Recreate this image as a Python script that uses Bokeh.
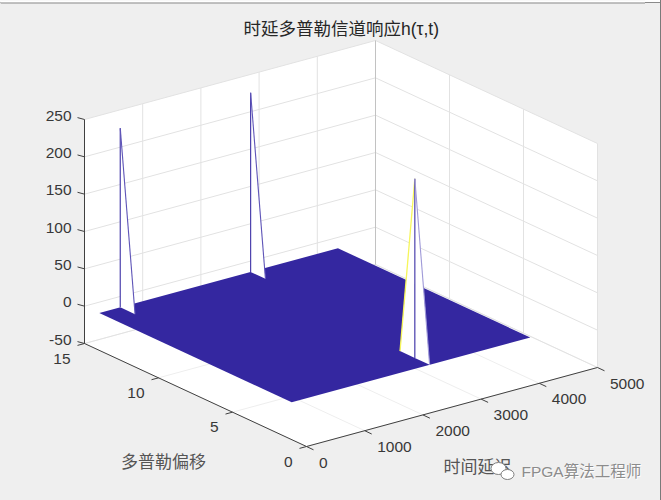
from bokeh.plotting import figure
from bokeh.embed import file_html
from bokeh.resources import INLINE
from bokeh.core.properties import value
from bokeh.models import Range1d

# ---- data ----
delay_ticks = [0, 1000, 2000, 3000, 4000, 5000]
doppler_ticks = [0, 5, 10, 15]
amp_ticks = [-50, 0, 50, 100, 150, 200, 250]
plate_delay = [0, 4100]
plate_doppler = [1, 14]
plate_amp = 0
spike_delay = [360, 2600, 2370]
spike_doppler = [14, 14, 2]
spike_amp = [240, 240, 240]
title_text = "时延多普勒信道响应h(τ,t)"
xlabel_text = "时间延迟"
ylabel_text = "多普勒偏移"
watermark_text = "FPGA算法工程师"

# ---- oblique view of the MATLAB box ----
O = (306.0, 446.0)
DX = (291.0 / 5000, -79.0 / 5000)
DY = (-222.0 / 15, -103.0 / 15)
DZ = -224.0 / 300


def proj(d, m, a):
    return (O[0] + d * DX[0] + m * DY[0],
            O[1] + d * DX[1] + m * DY[1] + (a + 50) * DZ)


BG = "#efefef"
p = figure(width=645, height=484, output_backend="svg", toolbar_location=None,
           x_range=Range1d(0, 645), y_range=Range1d(484, 0),
           min_border=0, background_fill_color=BG, border_fill_color=BG,
           outline_line_color=None)
p.axis.visible = False
p.grid.visible = False

dmin, dmax = delay_ticks[0], delay_ticks[-1]
mmin, mmax = doppler_ticks[0], doppler_ticks[-1]
amin, amax = amp_ticks[0], amp_ticks[-1]


def poly(pts, **kw):
    xs, ys = zip(*pts)
    p.patch(list(xs), list(ys), line_color=None, **kw)


def seg(a, b, color, width=1.0, alpha=1.0):
    p.line([a[0], b[0]], [a[1], b[1]], line_color=color, line_width=width, line_alpha=alpha)


# window edge of the screenshot
poly([(0, 0), (645, 0), (645, 2), (0, 2)], fill_color="white")
seg((0, 2.5), (645, 2.5), "#8a8a8a")

# walls and floor
poly([proj(dmin, mmax, amin), proj(dmax, mmax, amin), proj(dmax, mmax, amax), proj(dmin, mmax, amax)], fill_color="white")
poly([proj(dmax, mmax, amin), proj(dmax, mmin, amin), proj(dmax, mmin, amax), proj(dmax, mmax, amax)], fill_color="white")
poly([proj(dmin, mmin, amin), proj(dmax, mmin, amin), proj(dmax, mmax, amin), proj(dmin, mmax, amin)], fill_color="white")

GRID = "#e2e2e2"
FLOOR = "#eeeeee"
for d in delay_ticks:
    seg(proj(d, mmax, amin), proj(d, mmax, amax), GRID)
    seg(proj(d, mmin, amin), proj(d, mmax, amin), FLOOR)
for m in doppler_ticks:
    seg(proj(dmax, m, amin), proj(dmax, m, amax), GRID)
    seg(proj(dmin, m, amin), proj(dmax, m, amin), FLOOR)
for a in amp_ticks:
    seg(proj(dmin, mmax, a), proj(dmax, mmax, a), GRID)
    seg(proj(dmax, mmax, a), proj(dmax, mmin, a), GRID)
seg(proj(dmax, mmax, amin), proj(dmax, mmax, amax), "#c2c2c2")

# surface
poly([proj(plate_delay[0], plate_doppler[0], plate_amp),
      proj(plate_delay[1], plate_doppler[0], plate_amp),
      proj(plate_delay[1], plate_doppler[1], plate_amp),
      proj(plate_delay[0], plate_doppler[1], plate_amp)], fill_color="#3427a0")

BLUE = "#4c41ad"
YELLOW = "#f6f65a"
for d, m, a in zip(spike_delay, spike_doppler, spike_amp):
    peak = proj(d, m, a)
    base = proj(d, m, plate_amp)
    front = proj(d, m - 1, plate_amp)
    poly([peak, base, front], fill_color="white")
    if m < plate_doppler[1]:
        back = proj(d, m + 1, plate_amp)
        poly([peak, base, back], fill_color="white")
        seg(peak, back, YELLOW, 1.3)
    seg(peak, base, BLUE, 1.2)
    seg(peak, front, "#5f55b8" if m == plate_doppler[1] else "#a09ad8", 1.1)

# axes
AX = "#404040"
seg(proj(dmin, mmax, amin), proj(dmin, mmax, amax), AX)
seg(proj(dmin, mmin, amin), proj(dmin, mmax, amin), AX)
seg(proj(dmin, mmin, amin), proj(dmax, mmin, amin), AX)

TICK_BACK = (-7.0, 1.9)
TICK_FWD = (7.0, 3.3)
FONT = value("Liberation Sans")
CJK = value("Noto Sans CJK SC")
MIXED = value("Liberation Sans, Noto Sans CJK SC")
TXT = "#383838"


def label(x, y, s, align, size="15.5px", font=FONT, color=TXT):
    p.text([x], [y], text=[s], text_align=align, text_baseline="middle",
           text_font=font, text_font_size=size, text_color=color)


for a in amp_ticks:
    x, y = proj(dmin, mmax, a)
    seg((x, y), (x + TICK_BACK[0], y - TICK_BACK[1]), AX)
    label(x - 13, y - 4, str(a), "right")
for m in doppler_ticks:
    x, y = proj(dmin, m, amin)
    seg((x, y), (x + TICK_BACK[0], y + TICK_BACK[1]), AX)
    label(x - 14, y + 15, str(m), "right")
for d in delay_ticks:
    x, y = proj(d, mmin, amin)
    seg((x, y), (x + TICK_FWD[0], y + TICK_FWD[1]), AX)
    label(x + 12.5, y + 16, str(d), "left")

label(243, 28, title_text, "left", "17.5px", MIXED, "#262626")
label(163, 460, ylabel_text, "center", "17px", CJK, "#555555")
label(443, 465, xlabel_text, "left", "17px", CJK, "#555555")

# watermark
p.ellipse([498], [468], width=15, height=12, fill_color="white", line_color="#7f7f7f", line_width=1)
p.ellipse([507], [474], width=13, height=10, fill_color="white", line_color="#7f7f7f", line_width=1)
label(521.8, 471.8, watermark_text, "left", "15.5px", MIXED, "white")
label(521, 471, watermark_text, "left", "15.5px", MIXED, "#8c8c8c")

html = file_html(p, INLINE)
css = ("<style>html,body{background:linear-gradient(to left,#7a7a7a 0 1px,transparent 1px),"
       "linear-gradient(#ffffff 0 2px,#8a8a8a 2px 3px,#efefef 3px);"
       "background-repeat:no-repeat;background-size:100% 100%;overflow:hidden}</style>")
html = html.replace("</head>", css + "</head>", 1)
open("out.html", "w").write(html)
